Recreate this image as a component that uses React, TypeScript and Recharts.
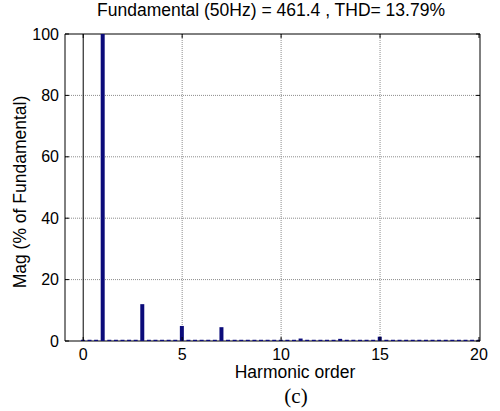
import {
  Bar,
  CartesianGrid,
  ComposedChart,
  ReferenceArea,
  ReferenceLine,
  XAxis,
  YAxis,
} from "recharts";

// FFT bins every 1/3 of a harmonic (3-cycle window), orders 0 .. 20
const binsPerHarmonic = 3;
const magnitudes = [
  0.4, 0.4, 0.4, 100, 0.4, 0.4, 0.4, 0.4, 0.4, 12.0,
  0.4, 0.4, 0.4, 0.4, 0.4, 4.9, 0.4, 0.4, 0.4, 0.4,
  0.4, 4.5, 0.4, 0.4, 0.4, 0.4, 0.4, 0.4, 0.4, 0.4,
  0.4, 0.4, 0.4, 0.8, 0.4, 0.4, 0.4, 0.4, 0.4, 0.7,
  0.4, 0.4, 0.4, 0.4, 0.4, 1.4, 0.4, 0.4, 0.4, 0.4,
  0.4, 0.4, 0.4, 0.4, 0.4, 0.4, 0.4, 0.4, 0.4, 0.4,
  0.4,
];
const xTicks = [0, 5, 10, 15, 20];
const yTicks = [0, 20, 40, 60, 80, 100];
const xDomain: [number, number] = [-0.92, 20.05];
const yDomain: [number, number] = [0, 100];

const titleText = "Fundamental (50Hz) = 461.4 , THD= 13.79%";
const xLabel = "Harmonic order";
const yLabel = "Mag (% of Fundamental)";
const caption = "(c)";

const data = magnitudes.map((mag, i) => ({ order: i / binsPerHarmonic, mag }));

const FONT = '"Liberation Sans", Arial, sans-serif';
const TICK_X = 0.2; // inward tick length in x units (~4px)
const TICK_Y = 1.3; // inward tick length in y units (~4px)

export default function App() {
  return (
    <div
      style={{
        position: "absolute",
        left: 0,
        top: 0,
        width: 500,
        height: 411,
        background: "#fff",
        fontFamily: FONT,
      }}
    >
      <div
        style={{
          position: "absolute",
          left: 0,
          width: 542,
          top: 0,
          textAlign: "center",
          fontSize: 17.5,
          color: "#000",
        }}
      >
        {titleText}
      </div>
      <div
        style={{
          position: "absolute",
          left: 20,
          top: 192,
          transform: "translate(-50%, -50%) rotate(-90deg)",
          whiteSpace: "nowrap",
          fontSize: 17.5,
        }}
      >
        {yLabel}
      </div>
      <div
        style={{
          position: "absolute",
          left: 0,
          width: 590,
          top: 362,
          textAlign: "center",
          fontSize: 17.5,
        }}
      >
        {xLabel}
      </div>
      <div
        style={{
          position: "absolute",
          left: 0,
          width: 592,
          top: 384,
          textAlign: "center",
          fontSize: 21,
          fontFamily: '"Liberation Serif", "Times New Roman", serif',
        }}
      >
        {caption}
      </div>

      <ComposedChart
        width={500}
        height={411}
        data={data}
        margin={{ top: 34, right: 20, bottom: 40, left: 20 }}
        style={{ position: "absolute", left: 0, top: 0 }}
      >
        <CartesianGrid
          stroke="#8c8c8c"
          strokeDasharray="1 1"
          horizontalValues={[20, 40, 60, 80]}
          verticalValues={[5, 10, 15]}
        />
        <ReferenceLine x={0} stroke="#000" strokeWidth={1} />
        <ReferenceArea
          x1={xDomain[0]}
          x2={xDomain[1]}
          y1={yDomain[0]}
          y2={yDomain[1]}
          fill="none"
          stroke="#000"
          strokeWidth={1}
          fillOpacity={0}
          ifOverflow="visible"
        />
        {xTicks.map((t) => (
          <ReferenceLine
            key={`bx${t}`}
            segment={[
              { x: t, y: 0 },
              { x: t, y: TICK_Y },
            ]}
            stroke="#000"
            ifOverflow="visible"
          />
        ))}
        {xTicks.map((t) => (
          <ReferenceLine
            key={`tx${t}`}
            segment={[
              { x: t, y: 100 },
              { x: t, y: 100 - TICK_Y },
            ]}
            stroke="#000"
            ifOverflow="visible"
          />
        ))}
        {yTicks.map((t) => (
          <ReferenceLine
            key={`ly${t}`}
            segment={[
              { x: xDomain[0], y: t },
              { x: xDomain[0] + TICK_X, y: t },
            ]}
            stroke="#000"
            ifOverflow="visible"
          />
        ))}
        {yTicks.map((t) => (
          <ReferenceLine
            key={`ry${t}`}
            segment={[
              { x: xDomain[1], y: t },
              { x: xDomain[1] - TICK_X, y: t },
            ]}
            stroke="#000"
            ifOverflow="visible"
          />
        ))}
        <XAxis
          dataKey="order"
          type="number"
          domain={xDomain}
          ticks={xTicks}
          allowDataOverflow
          height={30}
          axisLine={false}
          tickLine={false}
          tickSize={0}
          tickMargin={8}
          tick={{ fill: "#000", fontSize: 16, fontFamily: FONT }}
        />
        <YAxis
          type="number"
          domain={yDomain}
          ticks={yTicks}
          allowDataOverflow
          width={45}
          axisLine={false}
          tickLine={false}
          tickSize={0}
          tickMargin={6}
          tick={{ fill: "#000", fontSize: 16, fontFamily: FONT }}
        />
        <Bar
          dataKey="mag"
          fill="#0b0b7a"
          barSize={4}
          isAnimationActive={false}
        />
      </ComposedChart>
    </div>
  );
}
